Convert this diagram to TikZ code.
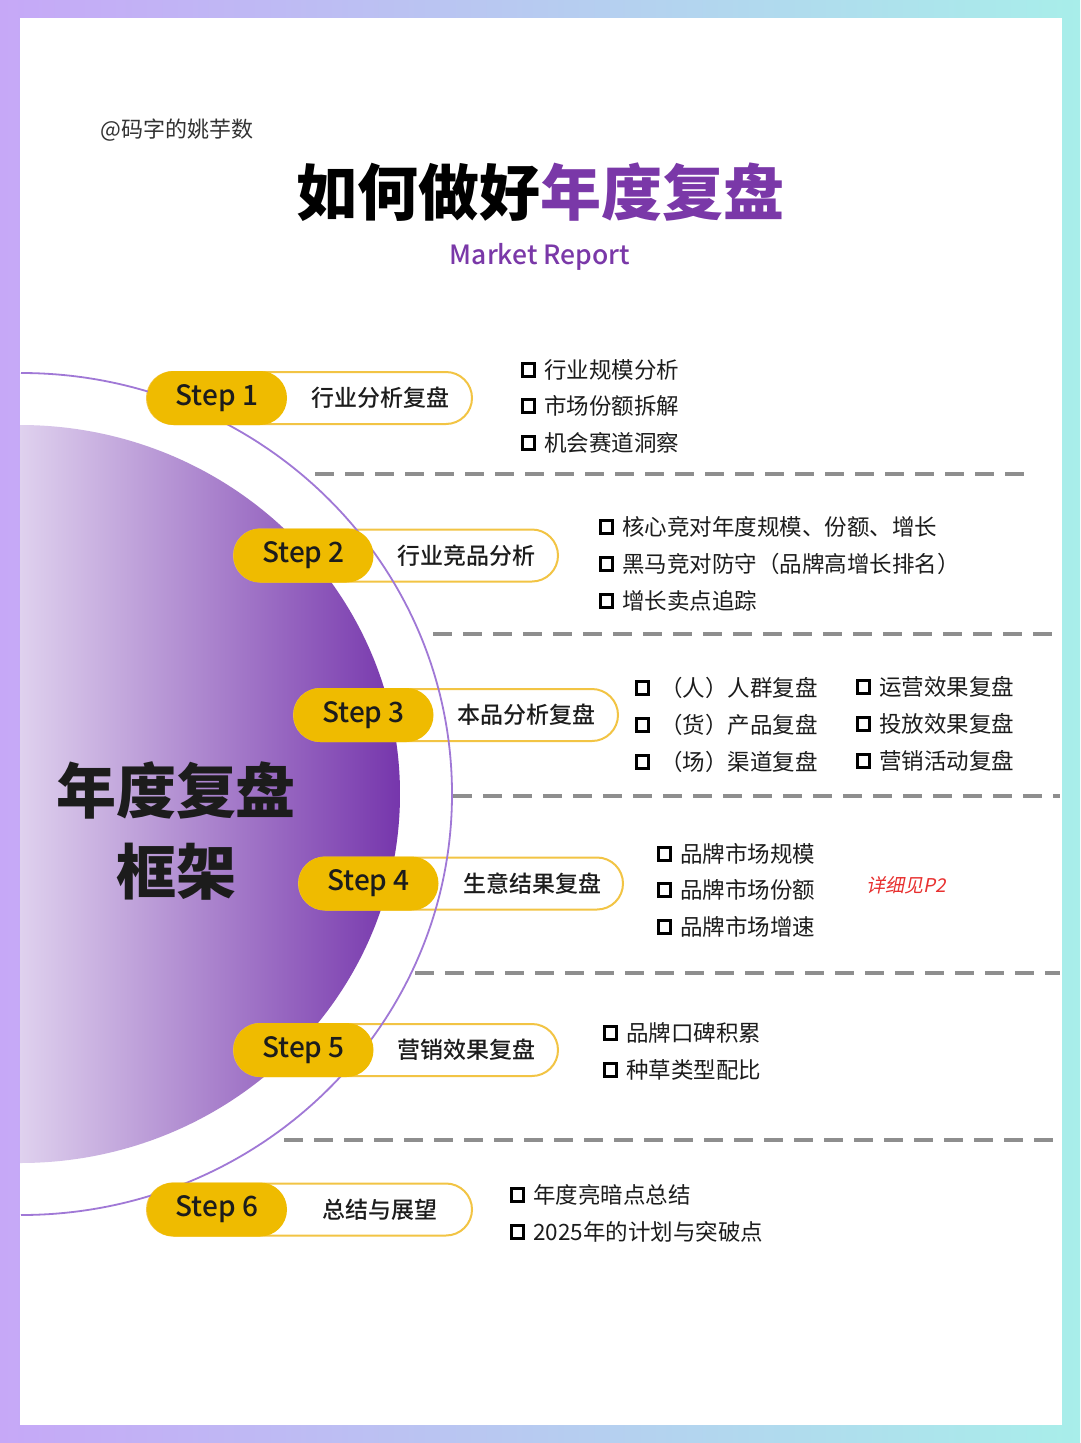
\documentclass[tikz,border=0pt]{standalone}
\usepackage{fontspec}
\setmainfont{Noto Sans CJK SC}
\newfontfamily\slfont{Noto Sans CJK SC}[FakeSlant=0.2]
\IfFontExistsTF{Noto Sans CJK SC Medium}
  {\newfontfamily\medfont{Noto Sans CJK SC Medium}}
  {\newfontfamily\medfont{Noto Sans CJK SC Bold}}
\definecolor{frameL}{HTML}{C6A8F7}
\definecolor{frameR}{HTML}{A8EEEA}
\definecolor{discL}{HTML}{DFD1EE}
\definecolor{discM}{HTML}{AE8AD1}
\definecolor{discR}{HTML}{7636AC}
\definecolor{titlepurple}{HTML}{7A38A8}
\definecolor{pillyellow}{HTML}{EFBB00}
\definecolor{pillline}{HTML}{F2C444}
\definecolor{arccol}{HTML}{A078D6}
\definecolor{sepgray}{HTML}{8E8E8E}
\definecolor{txtdark}{HTML}{1C1C1C}
\definecolor{redtxt}{HTML}{E8302F}
\tikzset{
  ypill/.style={fill=pillyellow, rounded corners=26.9pt, minimum width=140pt, minimum height=54pt, inner sep=0pt, text=txtdark, font=\fontsize{28}{28}\medfont},
  opill/.style={draw=pillline, line width=2pt, fill=white, rounded corners=26pt, minimum height=52pt, inner sep=0pt},
  plabel/.style={inner sep=0pt, text=txtdark, font=\fontsize{23}{23}\medfont},
  chk/.style={draw=black, line width=3.4pt, minimum size=12.5pt, inner sep=0pt},
  btxt/.style={anchor=west, inner sep=0pt, text=txtdark, font=\fontsize{22.5}{22.5}\selectfont},
  sepline/.style={draw=sepgray, line width=4pt, dash pattern=on 19pt off 11pt},
  arcline/.style={draw=arccol, line width=1.8pt},
  bigtxt/.style={inner sep=0pt, text=txtdark, font=\fontsize{60}{60}\selectfont\bfseries}
}
\newcommand\bulitem[5]{%
  \node[chk] (c#1) at ({#2+7.5},#4) {};
  \node[btxt] (t#1) at (#3,#4) {#5};}
\begin{document}
\begin{tikzpicture}[x=1pt,y=-1pt]
\useasboundingbox (0,0) rectangle (1080,1443);
\shade[left color=frameL, right color=frameR] (0,0) rectangle (1080,1443);
\fill[white] (20,18) rectangle (1062,1425);

% purple disc
\shade[left color=discL, middle color=discM, right color=discR]
  (20,425) arc[start angle=90, end angle=-90, x radius=380pt, y radius=369pt] -- cycle;

% header
\node[anchor=west, inner sep=0pt, text=black!80, font=\fontsize{22}{22}\selectfont] (author) at (100,130) {@码字的姚芋数};
\node[inner sep=0pt, text=black, font=\fontsize{61}{61}\selectfont\bfseries] (title) at (540,192) {如何做好\textcolor{titlepurple}{年度复盘}};
\node[inner sep=0pt, text=titlepurple, font=\fontsize{26.5}{26.5}\medfont] (sub) at (540,257) {Market Report};

% outline pills
\node[opill, minimum width=325pt] (o1) at (309.5,398) {};
\node[opill, minimum width=324pt] (o2) at (396,555.5) {};
\node[opill, minimum width=324pt] (o3) at (456,715) {};
\node[opill, minimum width=324pt] (o4) at (461,883.5) {};
\node[opill, minimum width=324pt] (o5) at (396,1050) {};
\node[opill, minimum width=325pt] (o6) at (309.5,1209.5) {};

% thin arc
\draw[arcline] (21,373) arc[start angle=90, end angle=-90, x radius=431pt, y radius=421pt];

% yellow pills
\node[ypill] (s1) at (217,398) {Step 1};
\node[ypill] (s2) at (303.5,555.5) {Step 2};
\node[ypill] (s3) at (363.5,715) {Step 3};
\node[ypill] (s4) at (368.5,883.5) {Step 4};
\node[ypill] (s5) at (303.5,1050) {Step 5};
\node[ypill] (s6) at (217,1209.5) {Step 6};

% pill labels
\node[plabel] (l1) at (380,398) {行业分析复盘};
\node[plabel] (l2) at (466,555.5) {行业竞品分析};
\node[plabel] (l3) at (526,715) {本品分析复盘};
\node[plabel] (l4) at (532,883.5) {生意结果复盘};
\node[plabel] (l5) at (466,1050) {营销效果复盘};
\node[plabel] (l6) at (380,1209.5) {总结与展望};

% center text
\node[bigtxt] (c1) at (176,790) {年度复盘};
\node[bigtxt] (c2) at (176,872) {框架};

% separators
\draw[sepline] (315,474) -- (1032,474);
\draw[sepline] (433,634) -- (1060,634);
\draw[sepline] (453,796) -- (1060,796);
\draw[sepline] (415,973) -- (1060,973);
\draw[sepline] (284,1140) -- (1060,1140);

% bullets step 1
\bulitem{a1}{521}{544}{370}{行业规模分析}
\bulitem{a2}{521}{544}{406}{市场份额拆解}
\bulitem{a3}{521}{544}{443}{机会赛道洞察}
% step 2
\bulitem{b1}{599}{622}{527}{核心竞对年度规模、份额、增长}
\bulitem{b2}{599}{622}{564}{黑马竞对防守（品牌高增长排名）}
\bulitem{b3}{599}{622}{601}{增长卖点追踪}
% step 3
\bulitem{d1}{635}{660}{688}{（人）人群复盘}
\bulitem{d2}{635}{660}{725}{（货）产品复盘}
\bulitem{d3}{635}{660}{762}{（场）渠道复盘}
\bulitem{e1}{856}{879}{687}{运营效果复盘}
\bulitem{e2}{856}{879}{724}{投放效果复盘}
\bulitem{e3}{856}{879}{761}{营销活动复盘}
% step 4
\bulitem{f1}{657}{680}{854}{品牌市场规模}
\bulitem{f2}{657}{680}{890}{品牌市场份额}
\bulitem{f3}{657}{680}{927}{品牌市场增速}
\node[inner sep=0pt, text=redtxt, font=\fontsize{19}{19}\slfont] (p2) at (906,885) {详细见P2};
% step 5
\bulitem{g1}{603}{626}{1033}{品牌口碑积累}
\bulitem{g2}{603}{626}{1070}{种草类型配比}
% step 6
\bulitem{h1}{510}{533}{1195}{年度亮暗点总结}
\bulitem{h2}{510}{533}{1232}{2025年的计划与突破点}
\end{tikzpicture}
\end{document}
